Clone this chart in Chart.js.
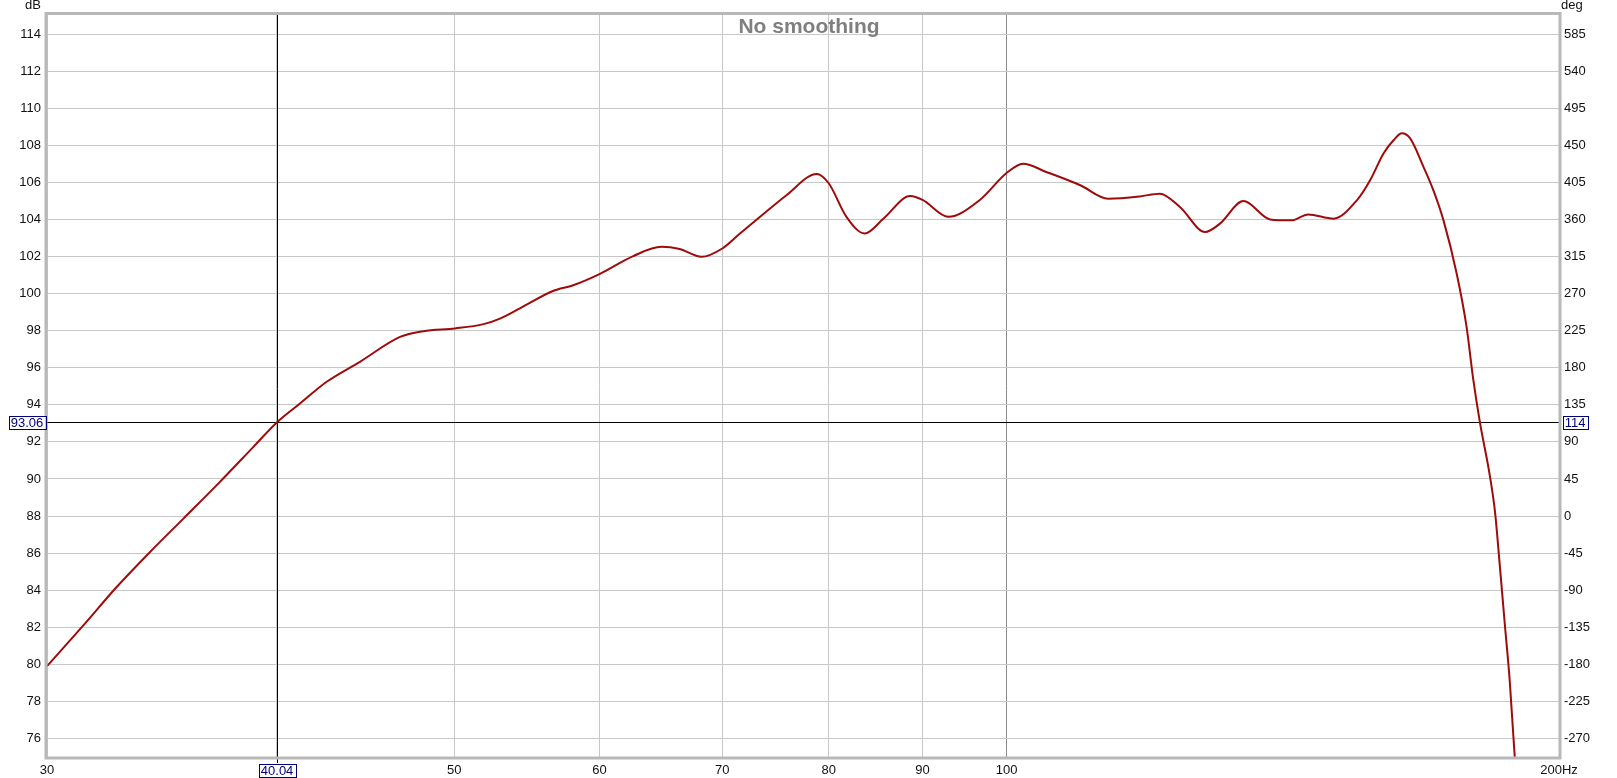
<!DOCTYPE html>
<html>
<head>
<meta charset="utf-8">
<script src="https://cdn.jsdelivr.net/npm/chart.js@4.4.0/dist/chart.umd.min.js"></script>
<style>
  html, body { margin: 0; padding: 0; background: #fff; }
  #wrap { width: 1617px; height: 778px; }
</style>
</head>
<body>
<div id="wrap"><canvas id="spl" width="1617" height="778"></canvas></div>
<script>
// frequency response (Hz / dB)
const freqHz = [
  30.0, 31.4, 32.74, 34.14, 35.6, 37.27, 38.87, 40.04, 41.21, 42.61,
  44.43, 46.72, 48.1, 50.06, 51.88, 52.96, 54.3, 56.6, 58.06, 60.0,
  62.6, 64.85, 66.35, 68.2, 70.0, 71.57, 73.4, 75.9, 78.8, 80.0,
  81.8, 83.7, 85.7, 88.6, 90.0, 92.95, 96.7, 100.0, 102.1, 105.1,
  109.7, 113.6, 118.2, 121.2, 124.3, 128.3, 130.7, 134.6, 139.2, 143.0,
  146.0, 150.7, 155.2, 157.8, 160.5, 162.5, 164.2, 165.9, 168.7, 170.8,
  173.0, 175.9, 178.1, 179.6, 181.1, 183.4, 184.6, 185.7, 186.9, 188.0,
  189.2, 189.6
];
const splDb = [
  79.9, 82.1, 84.17, 86.06, 87.86, 89.84, 91.73, 93.06, 94.07, 95.24,
  96.32, 97.66, 97.97, 98.12, 98.35, 98.65, 99.2, 100.14, 100.45, 101.05,
  102.02, 102.52, 102.4, 101.98, 102.43, 103.24, 104.14, 105.32, 106.45, 105.95,
  104.14, 103.24, 104.05, 105.26, 105.05, 104.14, 105.05, 106.5, 107.0, 106.56,
  105.84, 105.12, 105.24, 105.39, 104.67, 103.32, 103.77, 104.99, 104.0, 103.95,
  104.27, 104.04, 105.03, 106.11, 107.57, 108.27, 108.65, 108.38, 106.85, 105.59,
  103.96, 101.08, 98.2, 95.37, 93.06, 90.14, 88.16, 85.28, 82.04, 79.15,
  75.0, 74.0
];

const dbTicks = [76, 78, 80, 82, 84, 86, 88, 90, 92, 94, 96, 98, 100, 102, 104, 106, 108, 110, 112, 114];
const degTicks = [-270, -225, -180, -135, -90, -45, 0, 45, 90, 135, 180, 225, 270, 315, 360, 405, 450, 495, 540, 585];
const xGridHz = [30, 40, 50, 60, 70, 80, 90, 100, 200];
const xTickLabels = ["30", "", "50", "60", "70", "80", "90", "100", "200Hz"];

const cursorHz = 40.04;
const cursorDb = 93.06;
const cursorDeg = "114";
const titleText = "No smoothing";

const FONT = "'Liberation Sans', Arial, sans-serif";

function boxLabel(ctx, text, cx, cy) {
  ctx.save();
  ctx.font = "13px " + FONT;
  let w = ctx.measureText(text).width + 4;
  let h = 13;
  ctx.fillStyle = "#fff";
  ctx.fillRect(cx - w / 2, cy - h / 2, w, h);
  ctx.strokeStyle = "#00007a";
  ctx.lineWidth = 1;
  ctx.strokeRect(Math.round(cx - w / 2) + 0.5, Math.round(cy - h / 2) + 0.5, Math.round(w), h);
  ctx.fillStyle = "#00007a";
  ctx.textAlign = "center";
  ctx.textBaseline = "middle";
  ctx.fillText(text, cx, cy + 1);
  ctx.restore();
}

const decorPlugin = {
  id: "decor",
  beforeDatasetsDraw(chart) {
    const { ctx, chartArea: a } = chart;
    const xs = chart.scales.x, ys = chart.scales.y;
    // title
    ctx.save();
    ctx.font = "bold 21px " + FONT;
    ctx.fillStyle = "#7f7f7f";
    ctx.textAlign = "center";
    ctx.textBaseline = "alphabetic";
    ctx.fillText(titleText, 809, 33);
    // cursor lines
    let cx = Math.round(xs.getPixelForValue(cursorHz)) + 0.5;
    let cy = Math.round(ys.getPixelForValue(cursorDb)) + 0.5;
    ctx.strokeStyle = "#000";
    ctx.lineWidth = 1;
    ctx.beginPath();
    ctx.moveTo(cx, a.top);
    ctx.lineTo(cx, a.bottom + 6);
    ctx.moveTo(a.left, cy);
    ctx.lineTo(a.right, cy);
    ctx.stroke();
    ctx.restore();
  },
  afterDraw(chart) {
    const { ctx, chartArea: a } = chart;
    const xs = chart.scales.x, ys = chart.scales.y;
    // frame
    ctx.save();
    ctx.strokeStyle = "#b8b8b8";
    ctx.lineWidth = 3;
    ctx.strokeRect(a.left - 1, a.top - 0.5, a.right - a.left + 2, a.bottom - a.top + 1.5);
    ctx.restore();
    // axis units
    ctx.save();
    ctx.font = "13px " + FONT;
    ctx.fillStyle = "#111";
    ctx.textBaseline = "middle";
    ctx.textAlign = "center";
    ctx.fillText("dB", 33, 5);
    ctx.textAlign = "left";
    ctx.fillText("deg", 1561, 5);
    ctx.restore();
    // cursor readouts
    let cx = xs.getPixelForValue(cursorHz);
    let cy = ys.getPixelForValue(cursorDb);
    boxLabel(ctx, cursorDb.toFixed(2), 27, cy);
    boxLabel(ctx, cursorDeg, 1575, cy);
    boxLabel(ctx, cursorHz.toFixed(2), cx, 770);
  }
};

function fixTicks(values) {
  return function (scale) {
    scale.ticks = values.map((v) => ({ value: v }));
  };
}

new Chart(document.getElementById("spl").getContext("2d"), {
  type: "line",
  data: {
    datasets: [
      {
        data: freqHz.map((f, i) => ({ x: f, y: splDb[i] })),
        borderColor: "#9e0b0b",
        borderWidth: 2,
        pointRadius: 0,
        cubicInterpolationMode: "monotone",
        fill: false,
      },
    ],
  },
  options: {
    responsive: false,
    animation: false,
    devicePixelRatio: 1,
    layout: { padding: { top: 14, left: 0, right: 0, bottom: 0 } },
    plugins: {
      legend: { display: false },
      tooltip: { enabled: false },
    },
    scales: {
      x: {
        type: "logarithmic",
        position: "bottom",
        min: 30,
        max: 200,
        afterBuildTicks: fixTicks(xGridHz),
        afterFit: (scale) => { scale.height = 21; },
        border: { display: false },
        grid: {
          drawTicks: false,
          color: (c) => (c.tick && c.tick.value === 100 ? "#8c8c8c" : "#c8c8c8"),
        },
        ticks: {
          autoSkip: false,
          maxRotation: 0,
          padding: 6,
          color: "#111",
          font: { family: FONT, size: 13 },
          callback: (value, index) => xTickLabels[index],
        },
      },
      y: {
        position: "left",
        min: 75,
        max: 115.08,
        afterBuildTicks: fixTicks(dbTicks),
        afterFit: (scale) => { scale.width = 47; },
        border: { display: false },
        grid: { drawTicks: false, color: "#c8c8c8" },
        ticks: {
          padding: 6,
          color: "#111",
          font: { family: FONT, size: 13 },
          callback: (value) => String(value),
        },
      },
      y1: {
        position: "right",
        min: 75,
        max: 115.08,
        afterBuildTicks: fixTicks(dbTicks),
        afterFit: (scale) => { scale.width = 58; },
        border: { display: false },
        grid: { display: false, drawTicks: false },
        ticks: {
          padding: 5,
          color: "#111",
          font: { family: FONT, size: 13 },
          callback: (value, index) => String(degTicks[index]),
        },
      },
    },
  },
  plugins: [decorPlugin],
});
</script>
</body>
</html>
